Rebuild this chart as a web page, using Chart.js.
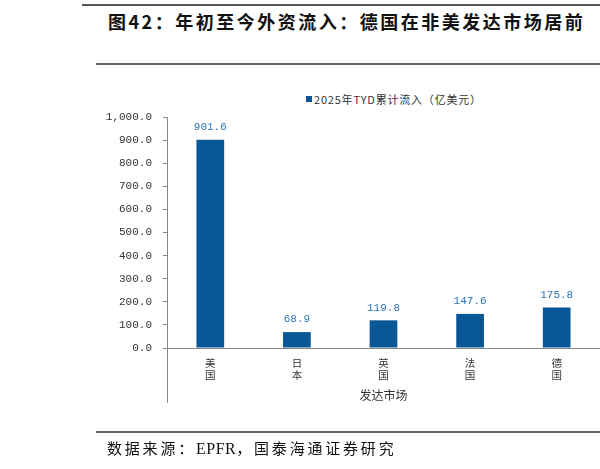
<!DOCTYPE html>
<html>
<head>
<meta charset="utf-8">
<script src="https://cdn.jsdelivr.net/npm/chart.js@4"></script>
<style>
  html, body { margin: 0; padding: 0; background: #fff; }
  #wrap { position: relative; width: 600px; height: 469px; overflow: hidden; }
  .rule { position: absolute; right: 0; background: #555; }
  #title {
    position: absolute; left: 108px; top: 8px;
    font: bold 18px "Noto Sans CJK SC", "Liberation Serif", serif;
    letter-spacing: 2.5px; color: #111; white-space: nowrap;
  }
  #source {
    position: absolute; left: 107px; top: 437px;
    font: 15px "Noto Sans CJK SC", "Liberation Serif", serif;
    letter-spacing: 2.8px; color: #111; white-space: nowrap;
  }
  #source span { font: 16px "Liberation Serif", serif; letter-spacing: 0.5px; }
  #legend {
    position: absolute; left: 306px; top: 91px;
    font: 11px "Noto Sans CJK SC", "Liberation Mono", monospace;
    letter-spacing: 0.8px;
    color: #333; white-space: nowrap; display: flex; align-items: center;
  }
  #legend i { display: inline-block; width: 6px; height: 6px; margin-right: 2px; }
  canvas { position: absolute; left: 0; top: 0; }
</style>
</head>
<body>
<div id="wrap">
  <div class="rule" style="left:82px; top:4px; height:2px;"></div>
  <div id="title">图42：年初至今外资流入：德国在非美发达市场居前</div>
  <div class="rule" style="left:96px; top:63px; height:2px; background:#666;"></div>
  <div id="legend"></div>
  <canvas id="chart" width="600" height="469"></canvas>
  <div class="rule" style="left:96px; top:431px; height:2px; background:#666;"></div>
  <div id="source">数据来源：<span>EPFR</span>，国泰海通证券研究</div>
</div>
<script>
// markets (each character on its own line, like the original)
const markets = [['美', '国'], ['日', '本'], ['英', '国'], ['法', '国'], ['德', '国']];
const groupLabel = '发达市场';
const seriesName = '2025年TYD累计流入（亿美元）';
const inflows = [901.6, 68.9, 119.8, 147.6, 175.8];

const barColor = '#0A5797';
const labelColor = '#2E75B6';
const axisColor = '#888';

document.getElementById('legend').innerHTML =
  `<i style="background:${barColor}"></i>${seriesName}`;

// value labels above bars + the left separator under the category axis
const extras = {
  id: 'extras',
  afterDatasetsDraw(chart) {
    const ctx = chart.ctx;
    const meta = chart.getDatasetMeta(0);
    ctx.save();
    ctx.fillStyle = labelColor;
    ctx.font = '11px "Liberation Mono", monospace';
    ctx.textAlign = 'center';
    ctx.textBaseline = 'bottom';
    meta.data.forEach((bar, i) => {
      ctx.fillText(inflows[i].toFixed(1), bar.x, bar.y - 7);
    });
    const x = chart.scales.x;
    ctx.strokeStyle = axisColor;
    ctx.lineWidth = 1;
    ctx.beginPath();
    ctx.moveTo(chart.chartArea.left + 0.5, chart.chartArea.bottom);
    ctx.lineTo(chart.chartArea.left + 0.5, x.bottom);
    ctx.stroke();
    ctx.restore();
  }
};

new Chart(document.getElementById('chart'), {
  type: 'bar',
  data: {
    labels: markets,
    datasets: [{
      label: seriesName,
      data: inflows,
      backgroundColor: barColor,
      categoryPercentage: 1,
      barPercentage: 0.32
    }]
  },
  options: {
    responsive: false,
    animation: false,
    layout: { padding: { top: 117, right: 0, bottom: 66, left: 0 } },
    plugins: {
      legend: { display: false },
      tooltip: { enabled: false }
    },
    scales: {
      y: {
        min: 0,
        max: 1000,
        afterFit(scale) { scale.width = 167; },
        border: { color: axisColor },
        grid: { drawOnChartArea: false, tickLength: 4, color: axisColor },
        ticks: {
          stepSize: 100,
          padding: 11,
          color: '#333',
          font: { family: '"Liberation Mono", monospace', size: 11 },
          callback: v => v.toLocaleString('en-US', { minimumFractionDigits: 1, maximumFractionDigits: 1 })
        }
      },
      x: {
        afterFit(scale) { scale.height = 55; },
        border: { color: axisColor },
        grid: { display: false },
        ticks: {
          color: '#333',
          padding: 2,
          maxRotation: 0,
          font: { family: '"Noto Sans CJK SC", sans-serif', size: 10.5, lineHeight: 1.05 }
        },
        title: {
          display: true,
          text: groupLabel,
          color: '#333',
          padding: { top: 2, bottom: 0 },
          font: { family: '"Noto Sans CJK SC", sans-serif', size: 12 }
        }
      }
    }
  },
  plugins: [extras]
});
</script>
</body>
</html>
